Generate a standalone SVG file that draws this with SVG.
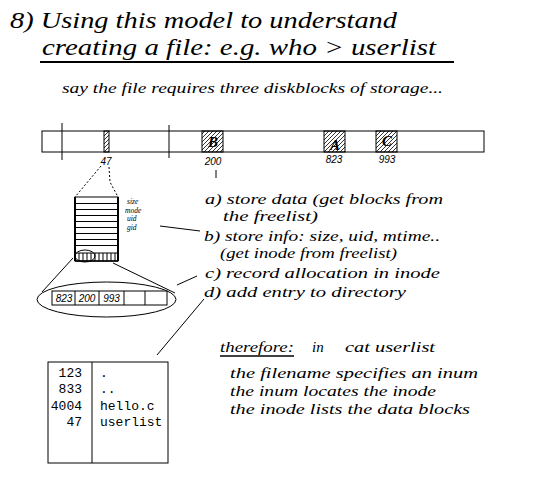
<svg xmlns="http://www.w3.org/2000/svg" width="560" height="480" viewBox="0 0 560 480">
<defs>
<pattern id="hatch" patternUnits="userSpaceOnUse" width="4" height="4">
<path d="M-1,1 L1,-1 M0,4 L4,0 M3,5 L5,3" stroke="#000" stroke-width="0.8"/>
</pattern>
<style>
.hand{font-family:"Liberation Serif","DejaVu Serif",serif;font-style:italic;fill:#000}
.lbl{font-family:"Liberation Sans","DejaVu Sans",sans-serif;font-style:italic;font-size:10px;fill:#000}
.mono{font-family:"Liberation Mono","DejaVu Sans Mono",monospace;font-size:13px;fill:#000}
.ln{stroke:#000;stroke-width:1;fill:none}
.dash{stroke:#000;stroke-width:1;fill:none;stroke-dasharray:2,2}
.blk{fill:url(#hatch);stroke:#000;stroke-width:1}
.big{font-family:"Liberation Serif","DejaVu Serif",serif;font-style:italic;font-weight:bold;font-size:15px;fill:#000}
.tiny{font-family:"Liberation Serif","DejaVu Serif",serif;font-style:italic;font-size:7.5px;fill:#000}
</style>
</defs>
<rect width="560" height="480" fill="#fff"/>

<g id="title">
<text class="hand" x="10" y="28" font-size="24" textLength="387" lengthAdjust="spacingAndGlyphs">8) Using this model to understand</text>
<text class="hand" x="42" y="55" font-size="24" textLength="394" lengthAdjust="spacingAndGlyphs">creating a file:  e.g.  who &gt; userlist</text>
<line x1="40" y1="62" x2="454" y2="62" stroke="#000" stroke-width="2"/>
<text class="hand" x="62" y="93" font-size="15" textLength="381" lengthAdjust="spacingAndGlyphs">say the file requires three diskblocks of storage...</text>
</g>

<g id="disk">
<rect x="42" y="131" width="442" height="21" fill="#fff" stroke="#000" stroke-width="1"/>
<line class="ln" x1="62" y1="123" x2="62" y2="160"/>
<line class="ln" x1="169" y1="125" x2="169" y2="158"/>
<rect class="blk" x="104" y="131" width="5" height="21"/>
<rect class="blk" x="202" y="131" width="21" height="21"/>
<rect class="blk" x="324" y="131" width="21" height="21"/>
<rect class="blk" x="376" y="131" width="21" height="21"/>
<text class="big" x="213" y="147" text-anchor="middle">B</text>
<text class="big" x="335" y="150" text-anchor="middle">A</text>
<text class="big" x="387" y="146" text-anchor="middle">C</text>
<text class="lbl" x="106" y="165" text-anchor="middle">47</text>
<text class="lbl" x="213" y="165" text-anchor="middle">200</text>
<text class="lbl" x="334" y="163" text-anchor="middle">823</text>
<text class="lbl" x="387" y="163" text-anchor="middle">993</text>
</g>

<g id="inode">
<rect x="75" y="197" width="43" height="64" fill="#fff" stroke="#000" stroke-width="1"/>
<line x1="75" y1="197" x2="75" y2="261" stroke="#000" stroke-width="2"/>
<line x1="118" y1="197" x2="118" y2="261" stroke="#000" stroke-width="2"/>
<path class="ln" d="M75,203.5H118M75,209.5H118M75,215.5H118M75,221.5H118M75,227.5H118M75,233.5H118M75,239.5H118M75,245.5H118M75,253H118"/>
<path class="ln" d="M79,253V261M83,253V261M87,253V261M91,253V261M95,253V261M99,253V261M103,253V261M107,253V261M111,253V261M115,253V261"/>
<line x1="75" y1="261" x2="118" y2="261" stroke="#000" stroke-width="1.5"/>
<ellipse class="ln" cx="85" cy="256" rx="10" ry="6"/>
<text class="tiny" x="127" y="204">size</text>
<text class="tiny" x="125" y="212.5">mode</text>
<text class="tiny" x="127" y="221">uid</text>
<text class="tiny" x="127" y="229.5">gid</text>
</g>

<g id="blocklist">
<ellipse class="ln" cx="106.5" cy="299.5" rx="69.5" ry="17.5"/>
<rect x="52" y="291" width="115" height="14" fill="#fff" stroke="#000" stroke-width="1"/>
<path class="ln" d="M75,291V305M99,291V305M124,291V305M145,291V305"/>
<text class="lbl" x="64" y="302" text-anchor="middle" font-size="11">823</text>
<text class="lbl" x="87" y="302" text-anchor="middle" font-size="11">200</text>
<text class="lbl" x="111.5" y="302" text-anchor="middle" font-size="11">993</text>
</g>

<g id="directory">
<rect x="48" y="362" width="120" height="101" fill="#fff" stroke="#000" stroke-width="1"/>
<line class="ln" x1="92" y1="362" x2="92" y2="463"/>
<text class="mono" x="82" y="377" text-anchor="end">123</text>
<text class="mono" x="82" y="393" text-anchor="end">833</text>
<text class="mono" x="82" y="410" text-anchor="end">4004</text>
<text class="mono" x="82" y="426" text-anchor="end">47</text>
<text class="mono" x="100" y="377">.</text>
<text class="mono" x="100" y="393">..</text>
<text class="mono" x="100" y="410">hello.c</text>
<text class="mono" x="100" y="426">userlist</text>
</g>

<g id="steps">
<text class="hand" x="205" y="204" font-size="15" textLength="238" lengthAdjust="spacingAndGlyphs">a) store data (get blocks from</text>
<text class="hand" x="223" y="221" font-size="15" textLength="95" lengthAdjust="spacingAndGlyphs">the freelist)</text>
<text class="hand" x="204" y="241" font-size="15" textLength="236" lengthAdjust="spacingAndGlyphs">b) store info: size, uid, mtime..</text>
<text class="hand" x="220" y="258" font-size="15" textLength="177" lengthAdjust="spacingAndGlyphs">(get inode from freelist)</text>
<text class="hand" x="205" y="278" font-size="15" textLength="235" lengthAdjust="spacingAndGlyphs">c) record allocation in inode</text>
<text class="hand" x="204" y="297" font-size="15" textLength="202" lengthAdjust="spacingAndGlyphs">d) add entry to directory</text>
</g>

<g id="therefore">
<text class="hand" x="220" y="352" font-size="15" textLength="74" lengthAdjust="spacingAndGlyphs">therefore:</text>
<line x1="220" y1="356" x2="294" y2="356" stroke="#000" stroke-width="1.5"/>
<text class="hand" x="312" y="352" font-size="15">in</text>
<text class="hand" x="345" y="352" font-size="15" textLength="90" lengthAdjust="spacingAndGlyphs">cat userlist</text>
<text class="hand" x="230" y="378" font-size="15" textLength="248" lengthAdjust="spacingAndGlyphs">the filename  specifies an inum</text>
<text class="hand" x="230" y="396" font-size="15" textLength="206" lengthAdjust="spacingAndGlyphs">the inum locates the inode</text>
<text class="hand" x="230" y="414" font-size="15" textLength="240" lengthAdjust="spacingAndGlyphs">the inode lists the data blocks</text>
</g>

<g id="connectors">
<path class="dash" d="M101,166 L75,197"/>
<path class="dash" d="M109,167 L110,182 L118,197"/>
<line class="ln" x1="216" y1="170" x2="216" y2="178"/>
<line class="ln" x1="73" y1="258" x2="42" y2="292"/>
<line class="ln" x1="113" y1="263" x2="175" y2="293"/>
<line class="ln" x1="160" y1="226" x2="200" y2="231"/>
<line class="ln" x1="177" y1="285" x2="197" y2="276"/>
<line class="ln" x1="157" y1="355" x2="204" y2="299"/>
</g>
</svg>
